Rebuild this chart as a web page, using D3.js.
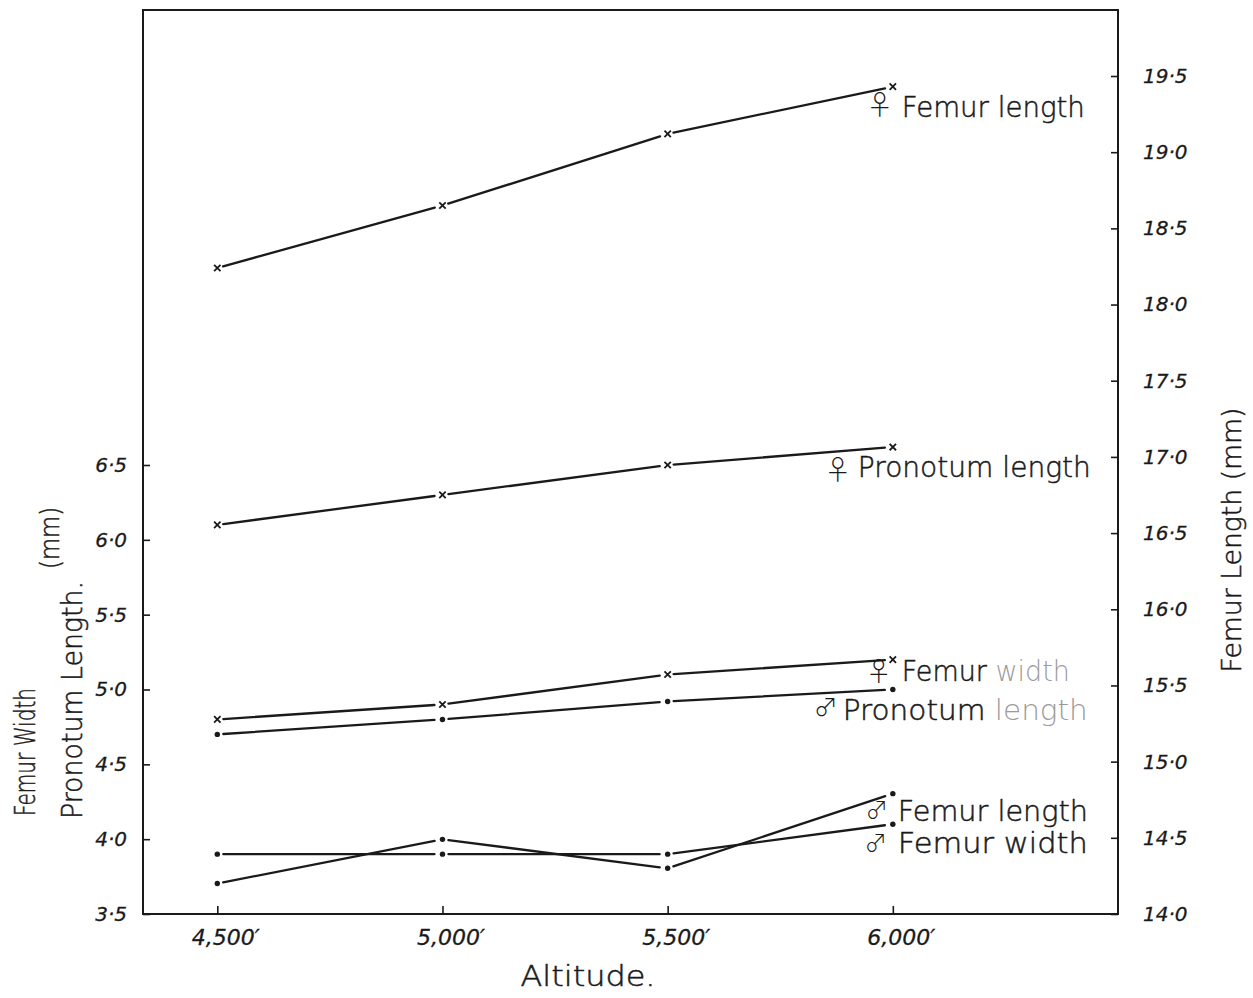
<!DOCTYPE html>
<html><head><meta charset="utf-8">
<script src="https://cdn.jsdelivr.net/npm/d3@7"></script>
<style>
body{margin:0;background:#fff}
svg{display:block}
text{font-family:"DejaVu Sans","Liberation Sans",sans-serif;fill:#1a1a1a}
</style>
</head><body>
<svg id="chart" width="1253" height="998"></svg>
<script>
// ---------- data ----------
const altitudes = [4500, 5000, 5500, 6000];
const xTickLabels = ["4,500′", "5,000′", "5,500′", "6,000′"];
const leftTicks = [3.5, 4.0, 4.5, 5.0, 5.5, 6.0, 6.5];
const rightTicks = [14.0, 14.5, 15.0, 15.5, 16.0, 16.5, 17.0, 17.5, 18.0, 18.5, 19.0, 19.5];

const femaleFemurLength    = [18.24, 18.65, 19.12, 19.43]; // right axis
const femalePronotumLength = [6.10, 6.30, 6.50, 6.62];     // left axis
const femaleFemurWidth     = [4.80, 4.90, 5.10, 5.20];     // left axis
const malePronotumLength   = [4.70, 4.80, 4.92, 5.00];     // left axis
const maleFemurLength      = [14.20, 14.49, 14.30, 14.79]; // right axis
const maleFemurWidth       = [3.90, 3.90, 3.90, 4.10];     // left axis

const seriesNames = ["Femur length", "Pronotum length", "Femur width",
                     "Pronotum length", "Femur length", "Femur width"];
const seriesSex = ["♀", "♀", "♀", "♂", "♂", "♂"];

const series = [
  {values: femaleFemurLength,    axis: "right", marker: "x"},
  {values: femalePronotumLength, axis: "left",  marker: "x"},
  {values: femaleFemurWidth,     axis: "left",  marker: "x"},
  {values: malePronotumLength,   axis: "left",  marker: "dot"},
  {values: maleFemurLength,      axis: "right", marker: "dot"},
  {values: maleFemurWidth,       axis: "left",  marker: "dot"}
].map((s, i) => ({...s, name: seriesNames[i], sex: seriesSex[i]}));

// ---------- layout (label placement relative to the last point) ----------
const labelLayout = [
  {sdx: -13, sdy: 28, ss: 27, tdx: 9,   tdy: 30, len: 183, faint: null},
  {sdx: -55, sdy: 33, ss: 27, tdx: -35, tdy: 30, len: 233, faint: null},
  {sdx: -14, sdy: 21, ss: 26, tdx: 9,   tdy: 21, len: 168, faint: "width"},
  {sdx: -67, sdy: 26, ss: 24, tdx: -50, tdy: 30, len: 245, faint: "length"},
  {sdx: -16, sdy: 24, ss: 22.5, tdx: 5, tdy: 27, len: 190, faint: null},
  {sdx: -17, sdy: 27, ss: 22.5, tdx: 5, tdy: 29, len: 190, faint: null}
];

const frame = {left: 143, right: 1118, top: 10, bottom: 914};
const ink = "#1a1a1a";

const svg = d3.select("#chart");

const x = d3.scaleLinear().domain([4335, 6500]).range([frame.left, frame.right]);
const yL = d3.scaleLinear().domain([3.5, 6.5]).range([frame.bottom, 465]);
const yR = d3.scaleLinear().domain([14.0, 19.5]).range([frame.bottom, 76]);

const fmt = d => d3.format(".1f")(d).replace(".", "·");

// frame
svg.append("rect")
  .attr("x", frame.left).attr("y", frame.top)
  .attr("width", frame.right - frame.left).attr("height", frame.bottom - frame.top)
  .attr("fill", "none").attr("stroke", ink).attr("stroke-width", 2);

function styleAxis(g) {
  g.select(".domain").remove();
  g.selectAll(".tick line").attr("stroke", ink).attr("stroke-width", 1.6);
  g.selectAll(".tick text")
    .style("font-size", "20px").style("font-style", "italic").style("font-weight", "300")
    .attr("fill", ink).attr("stroke", ink).attr("stroke-width", 0.3);
}

// left axis
svg.append("g").attr("transform", `translate(${frame.left},0)`)
  .call(d3.axisLeft(yL).tickValues(leftTicks).tickSize(-7).tickPadding(16).tickFormat(fmt))
  .call(styleAxis);

// right axis
svg.append("g").attr("transform", `translate(${frame.right},0)`)
  .call(d3.axisRight(yR).tickValues(rightTicks).tickSize(-7).tickPadding(25).tickFormat(fmt))
  .call(styleAxis);

// bottom axis
svg.append("g").attr("transform", `translate(0,${frame.bottom})`)
  .call(d3.axisBottom(x).tickValues(altitudes).tickSize(-8).tickPadding(15)
        .tickFormat((d, i) => xTickLabels[i]))
  .call(styleAxis)
  .call(g => g.selectAll(".tick text").attr("dx", 8).style("font-size", "22px"));

// axis titles
function title(tr, len, size, txt) {
  svg.append("text")
    .attr("transform", tr)
    .attr("text-anchor", "middle").attr("textLength", len).attr("lengthAdjust", "spacingAndGlyphs")
    .style("font-size", size + "px").style("font-weight", "300")
    .attr("stroke", ink).attr("stroke-width", 0.5)
    .text(txt);
}
title("translate(35,752) rotate(-90)", 128, 28, "Femur Width");
title("translate(59,538) rotate(-90)", 62, 26, "(mm)");
title("translate(82,700) rotate(-90)", 238, 28, "Pronotum Length.");
title("translate(1241,540) rotate(-90)", 265, 27, "Femur Length (mm)");
title("translate(588,986)", 135, 28, "Altitude.");

// series
const gap = 6;
series.forEach((s, si) => {
  const ys = s.axis === "left" ? yL : yR;
  const pts = s.values.map((v, i) => [x(altitudes[i]), ys(v)]);
  const g = svg.append("g");
  // line segments, stopping just short of each marker
  d3.pairs(pts).forEach(([a, b]) => {
    const dx = b[0] - a[0], dy = b[1] - a[1];
    const L = Math.hypot(dx, dy), ux = dx / L, uy = dy / L;
    g.append("line")
      .attr("x1", a[0] + ux * gap).attr("y1", a[1] + uy * gap)
      .attr("x2", b[0] - ux * (gap + 2)).attr("y2", b[1] - uy * (gap + 2))
      .attr("stroke", ink).attr("stroke-width", 2.3).attr("stroke-linecap", "round");
  });
  // markers
  pts.forEach(p => {
    if (s.marker === "x") {
      const r = 3.2;
      g.append("path")
        .attr("d", `M${p[0]-r},${p[1]-r}L${p[0]+r},${p[1]+r}M${p[0]-r},${p[1]+r}L${p[0]+r},${p[1]-r}`)
        .attr("stroke", ink).attr("stroke-width", 1.8).attr("fill", "none");
    } else {
      g.append("circle").attr("cx", p[0]).attr("cy", p[1]).attr("r", 2.7).attr("fill", ink);
    }
  });
  // label
  const end = pts[pts.length - 1];
  const lay = labelLayout[si];
  g.append("text")
    .attr("x", end[0] + lay.sdx).attr("y", end[1] + lay.sdy)
    .attr("text-anchor", "middle")
    .style("font-family", "'Noto Sans CJK JP','DejaVu Sans',sans-serif")
    .style("font-size", lay.ss + "px").style("font-weight", "300")
    .text(s.sex);
  const t = g.append("text")
    .attr("x", end[0] + lay.tdx).attr("y", end[1] + lay.tdy)
    .attr("textLength", lay.len).attr("lengthAdjust", "spacingAndGlyphs")
    .style("font-size", "28px").style("font-weight", "300");
  const words = s.name.split(" ");
  words.forEach((w, wi) => {
    const faint = lay.faint === w;
    t.append("tspan")
      .attr("fill", faint ? "#9a9a9a" : ink)
      .attr("stroke", faint ? "none" : ink).attr("stroke-width", 0.5)
      .text((wi > 0 ? " " : "") + w);
  });
});
</script>
</body></html>
